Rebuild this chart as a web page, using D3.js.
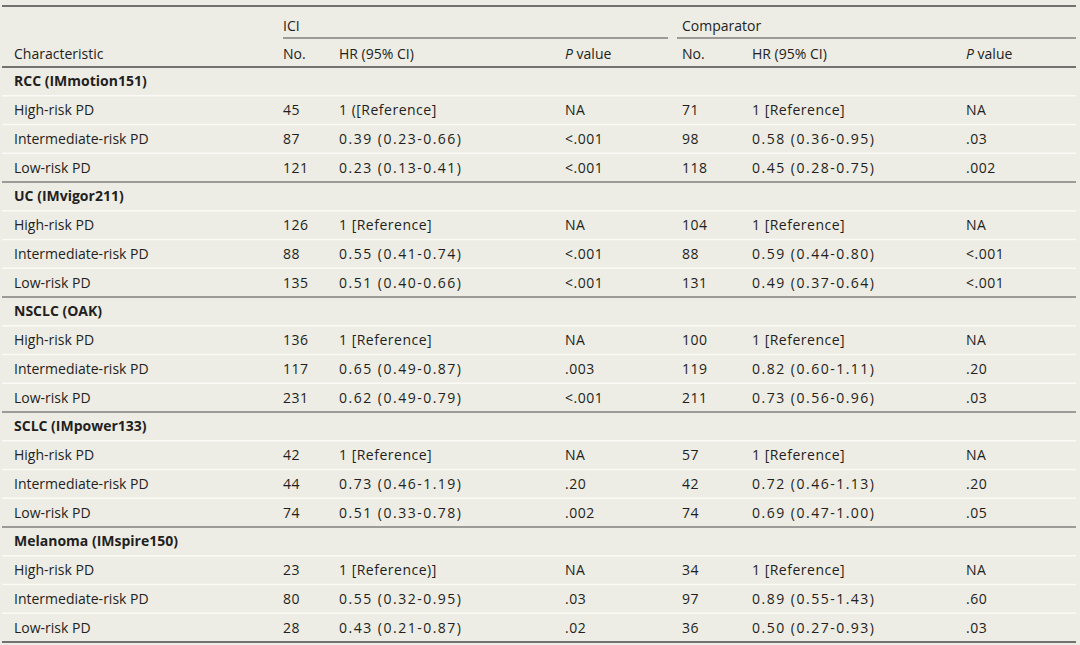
<!DOCTYPE html>
<html>
<head>
<meta charset="utf-8">
<script src="https://cdn.jsdelivr.net/npm/d3@7"></script>
<style>
  body { margin: 0; background: #edece5; }
  svg text { font-family: "Open Sans", "DejaVu Sans", sans-serif; font-size: 14px; fill: #231f20; }
  .num { letter-spacing: 0.5px; }
  .ci { letter-spacing: 1.5px; }
</style>
</head>
<body>
<svg id="table"></svg>
<script>
// table content
const sections = ['RCC (IMmotion151)', 'UC (IMvigor211)', 'NSCLC (OAK)', 'SCLC (IMpower133)', 'Melanoma (IMspire150)'];
const riskGroups = ['High-risk PD', 'Intermediate-risk PD', 'Low-risk PD'];

const iciNo = [[45, 87, 121], [126, 88, 135], [136, 117, 231], [42, 44, 74], [23, 80, 28]];
const iciHR = [
  ['1 ([Reference]', '0.39 (0.23-0.66)', '0.23 (0.13-0.41)'],
  ['1 [Reference]', '0.55 (0.41-0.74)', '0.51 (0.40-0.66)'],
  ['1 [Reference]', '0.65 (0.49-0.87)', '0.62 (0.49-0.79)'],
  ['1 [Reference]', '0.73 (0.46-1.19)', '0.51 (0.33-0.78)'],
  ['1 [Reference)]', '0.55 (0.32-0.95)', '0.43 (0.21-0.87)']
];
const iciP = [['NA', '<.001', '<.001'], ['NA', '<.001', '<.001'], ['NA', '.003', '<.001'], ['NA', '.20', '.002'], ['NA', '.03', '.02']];

const compNo = [[71, 98, 118], [104, 88, 131], [100, 119, 211], [57, 42, 74], [34, 97, 36]];
const compHR = [
  ['1 [Reference]', '0.58 (0.36-0.95)', '0.45 (0.28-0.75)'],
  ['1 [Reference]', '0.59 (0.44-0.80)', '0.49 (0.37-0.64)'],
  ['1 [Reference]', '0.82 (0.60-1.11)', '0.73 (0.56-0.96)'],
  ['1 [Reference]', '0.72 (0.46-1.13)', '0.69 (0.47-1.00)'],
  ['1 [Reference]', '0.89 (0.55-1.43)', '0.50 (0.27-0.93)']
];
const compP = [['NA', '.03', '.002'], ['NA', '<.001', '<.001'], ['NA', '.20', '.03'], ['NA', '.20', '.05'], ['NA', '.60', '.03']];

const columns = ['char', 'iciNo', 'iciHR', 'iciP', 'compNo', 'compHR', 'compP'];
const columnX = [14, 283, 339, 565, 682, 752, 966];

const width = 1080, height = 645;
const left = 2, right = 1076;
const topLine = 6, groupLine = 38, headLine = 67, bottomLine = 642;

// flatten to rows
const rows = [];
sections.forEach((s, i) => {
  rows.push({ type: 'section', label: s, idx: i });
  riskGroups.forEach((g, j) => {
    rows.push({
      type: 'row', idx: i,
      cells: { char: g, iciNo: iciNo[i][j], iciHR: iciHR[i][j], iciP: iciP[i][j],
               compNo: compNo[i][j], compHR: compHR[i][j], compP: compP[i][j] }
    });
  });
});

const svg = d3.select('#table').attr('width', width).attr('height', height);

const y = d3.scaleBand()
  .domain(d3.range(rows.length))
  .range([headLine, bottomLine]);

const x = d3.scaleOrdinal().domain(columns).range(columnX);

// row separators
svg.selectAll('.sep')
  .data(rows.slice(1).map((r, i) => ({ r, i: i + 1 })))
  .join('line')
  .attr('class', 'sep')
  .attr('x1', left).attr('x2', right)
  .attr('y1', d => y(d.i)).attr('y2', d => y(d.i))
  .attr('stroke', d => d.r.type === 'section' ? '#4a4a4a' : '#fbfaf7')
  .attr('stroke-width', d => d.r.type === 'section' ? 1.2 : 1.5);

// header lines
svg.append('line').attr('x1', left).attr('x2', right).attr('y1', topLine).attr('y2', topLine)
  .attr('stroke', '#4a4a4a').attr('stroke-width', 1.3);
svg.append('line').attr('x1', left).attr('x2', right).attr('y1', headLine).attr('y2', headLine)
  .attr('stroke', '#4a4a4a').attr('stroke-width', 1.3);
svg.append('line').attr('x1', left).attr('x2', right).attr('y1', bottomLine).attr('y2', bottomLine)
  .attr('stroke', '#4a4a4a').attr('stroke-width', 1.3);
svg.append('line').attr('x1', x('iciNo')).attr('x2', 668).attr('y1', groupLine).attr('y2', groupLine)
  .attr('stroke', '#4a4a4a').attr('stroke-width', 1);
svg.append('line').attr('x1', 677).attr('x2', right).attr('y1', groupLine).attr('y2', groupLine)
  .attr('stroke', '#4a4a4a').attr('stroke-width', 1);

// header text
svg.append('text').attr('x', x('iciNo')).attr('y', 26).attr('dy', '0.35em').text('ICI');
svg.append('text').attr('x', x('compNo')).attr('y', 26).attr('dy', '0.35em').text('Comparator');

const headers = { char: 'Characteristic', iciNo: 'No.', iciHR: 'HR (95% CI)', compNo: 'No.', compHR: 'HR (95% CI)' };
Object.entries(headers).forEach(([k, v]) => {
  svg.append('text').attr('x', x(k)).attr('y', 54).attr('dy', '0.35em').text(v);
});
['iciP', 'compP'].forEach(k => {
  const t = svg.append('text').attr('x', x(k)).attr('y', 54).attr('dy', '0.35em');
  t.append('tspan').attr('font-style', 'italic').text('P');
  t.append('tspan').text(' value');
});

// body
const rowG = svg.selectAll('.row')
  .data(rows)
  .join('g')
  .attr('class', 'row')
  .attr('transform', (d, i) => `translate(0,${y(i) + y.bandwidth() / 2})`);

rowG.filter(d => d.type === 'section')
  .append('text')
  .attr('x', x('char'))
  .attr('dy', '0.35em')
  .attr('font-weight', 'bold')
  .text(d => d.label);

rowG.filter(d => d.type === 'row')
  .selectAll('text')
  .data(d => columns.map(c => ({ c, v: d.cells[c] })))
  .join('text')
  .attr('class', d => d.c === 'char' ? null : (/^\d\.\d/.test(d.v) ? 'ci' : 'num'))
  .attr('x', d => x(d.c))
  .attr('dy', '0.35em')
  .text(d => d.v);
</script>
</body>
</html>
